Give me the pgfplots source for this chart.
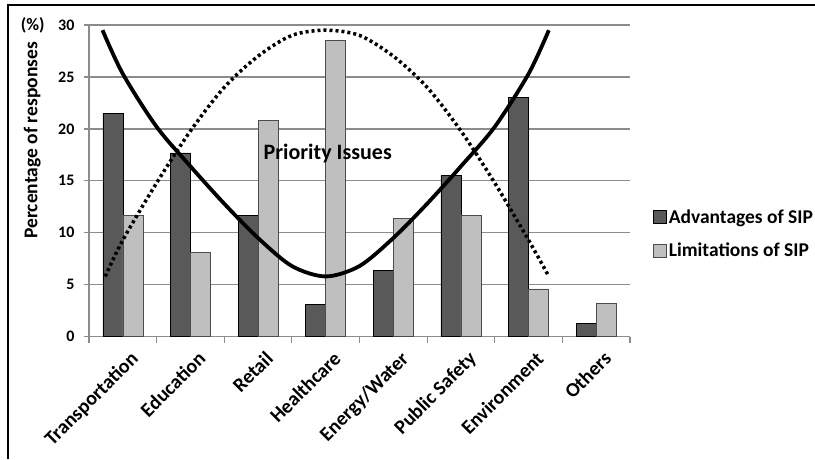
\documentclass[border=0pt]{standalone}
\usepackage{fontspec}
\setmainfont{Carlito}
\usepackage{pgfplots}
\pgfplotsset{compat=1.18}

\definecolor{darkbar}{RGB}{89,89,89}
\definecolor{lightbar}{RGB}{191,191,191}
\definecolor{gridgray}{RGB}{140,140,140}

\begin{document}
\begin{tikzpicture}[x=1pt,y=1pt]
\useasboundingbox (0,0) rectangle (815,459);
\draw[line width=2pt] (8,0) -- (8,454) -- (815,454);
\begin{axis}[
    at={(89pt,122.3pt)}, anchor=south west,
    scale only axis, width=541pt, height=311.7pt,
    xmin=-0.5, xmax=7.5, ymin=0, ymax=30,
    clip=false,
    axis x line*=bottom, axis y line*=left,
    axis line style={gridgray, line width=1.2pt},
    xtick={0,...,7},
    xticklabels={Transportation, Education, Retail, Healthcare, Energy/Water, Public Safety, Environment, Others},
    major x tick style={draw=none},
    minor xtick={-0.5,0.5,...,7.5},
    ytick={0,5,...,30},
    ymajorgrids,
    major grid style={gridgray, line width=1.2pt},
    tick align=outside,
    major tick length=5pt, minor tick length=6pt,
    tick style={gridgray, line width=1.2pt},
    tick label style={font=\fontsize{16}{16}\selectfont\bfseries},
    yticklabel style={xshift=-6pt},
    xticklabel style={rotate=45, anchor=north east, xshift=2pt, yshift=-7pt,
        font=\fontsize{20}{20}\selectfont\bfseries},
    /pgf/number format/assume math mode=true,
    ylabel={Percentage of responses},
    ylabel style={at={(axis description cs:-0.105,0.63)}, anchor=center, font=\fontsize{19.5}{19.5}\selectfont\bfseries},
    legend style={draw=none, at={(1.0425,0.33)}, anchor=west, inner sep=0pt,
        font=\fontsize{19.5}{19.5}\selectfont\bfseries, row sep=14pt},
    legend cell align=left,
    legend image code/.code={\draw[#1] (0pt,-6.5pt) rectangle (13pt,6.5pt);},
]
% Advantages of SIP
\addplot[ybar, bar width=20pt, bar shift=-10pt, fill=darkbar, draw=black, line width=0.6pt]
coordinates {(0,21.5) (1,17.7) (2,11.7) (3,3.1) (4,6.4) (5,15.5) (6,23.0) (7,1.3)};
\addlegendentry{Advantages of SIP}
% Limitations of SIP
\addplot[ybar, bar width=20pt, bar shift=10pt, fill=lightbar, draw=black!70, line width=0.6pt]
coordinates {(0,11.7) (1,8.1) (2,20.8) (3,28.5) (4,11.4) (5,11.7) (6,4.6) (7,3.2)};
\addlegendentry{Limitations of SIP}

% priority curves
\addplot[forget plot, smooth, black, line width=3.8pt] coordinates {
(-0.3,29.5) (0,25.3) (0.5,20.2) (1,16.4) (1.5,12.8) (2,9.5) (2.5,6.8) (3,5.8)
(3.5,6.8) (4,9.5) (4.5,12.8) (5,16.4) (5.5,20.2) (6,25.3) (6.3,29.5)};
\addplot[forget plot, smooth, black, line width=3.5pt, dash pattern=on 3pt off 3pt] coordinates {
(-0.26,5.8) (0,9.3) (0.5,14.8) (1,19.8) (1.5,24.0) (2,27.0) (2.5,29.0) (3,29.5)
(3.5,29.0) (4,27.0) (4.5,24.0) (5,19.8) (5.5,14.8) (6,9.3) (6.3,5.8)};

\node[font=\fontsize{22}{22}\selectfont\bfseries] at (axis cs:3.03,17.6) {Priority Issues};
\node[font=\fontsize{17.5}{17.5}\selectfont\bfseries, anchor=east] at (axis cs:-0.5,30) [xshift=-41pt] {(\%)};
\end{axis}
\end{tikzpicture}
\end{document}
